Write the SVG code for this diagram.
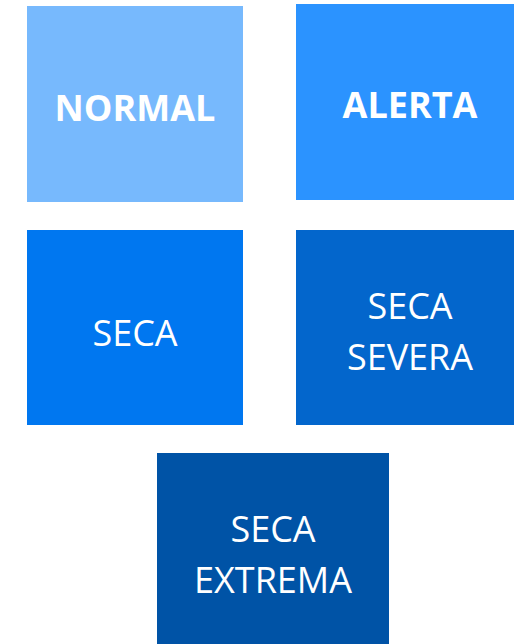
<svg xmlns="http://www.w3.org/2000/svg" width="514" height="644" viewBox="0 0 514 644">
  <style>
    .box text { fill: #ffffff; font-family: "Open Sans", "Liberation Sans", sans-serif; font-size: 36px; text-anchor: middle; }
    .box text.b { font-weight: bold; }
  </style>
  <rect width="514" height="644" fill="#ffffff"/>
  <g id="normal" class="box">
    <rect x="27" y="6" width="216" height="196" fill="#77B9FD"/>
    <text class="b" x="135" y="121">NORMAL</text>
  </g>
  <g id="alerta" class="box">
    <rect x="296" y="4" width="218" height="196" fill="#2B93FF"/>
    <text class="b" x="410" y="118">ALERTA</text>
  </g>
  <g id="seca" class="box">
    <rect x="27" y="230" width="216" height="195" fill="#0077F0"/>
    <text x="135" y="346">SECA</text>
  </g>
  <g id="seca-severa" class="box">
    <rect x="296" y="230" width="218" height="195" fill="#0366CC"/>
    <text x="410" y="319">SECA</text>
    <text x="410" y="370">SEVERA</text>
  </g>
  <g id="seca-extrema" class="box">
    <rect x="157" y="453" width="232" height="191" fill="#0053A6"/>
    <text x="273" y="542">SECA</text>
    <text x="273" y="593">EXTREMA</text>
  </g>
  <g id="connectors"/>
</svg>
